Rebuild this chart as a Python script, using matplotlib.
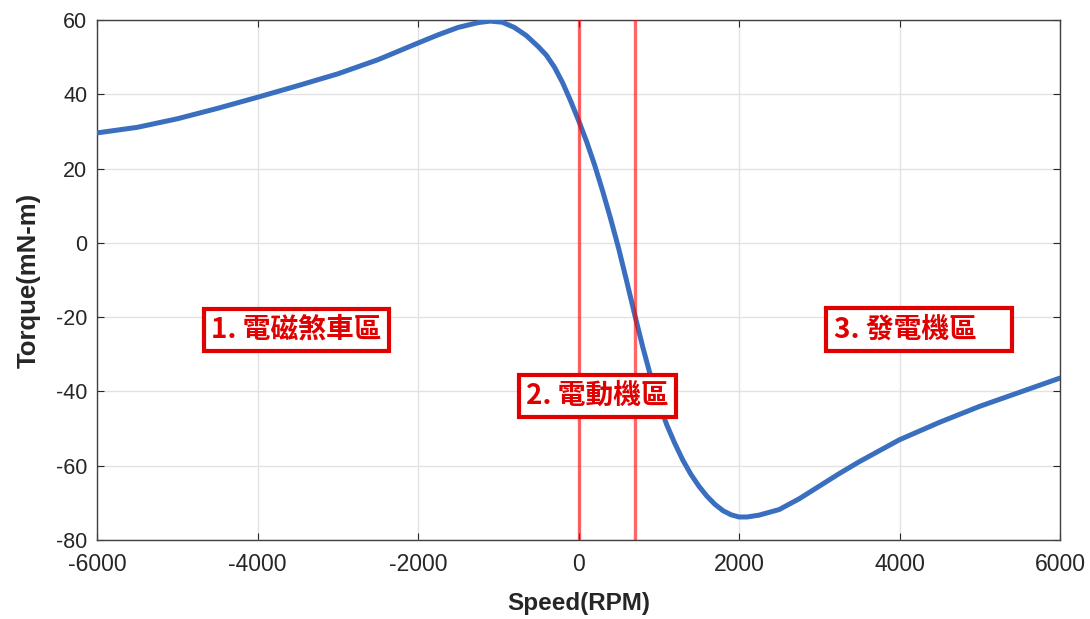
import matplotlib
matplotlib.use("Agg")
import matplotlib.pyplot as plt

# speed (RPM) and torque (mN-m)
speed = [-6000, -5500, -5000, -4500, -4000, -3500, -3000, -2500, -2000, -1750,
         -1500, -1250, -1100, -950, -800, -650, -500, -400, -300, -200,
         -100, 0, 100, 200, 300, 400, 500, 600, 700, 800,
         900, 1000, 1100, 1200, 1300, 1400, 1500, 1600, 1700, 1800,
         1900, 2000, 2100, 2250, 2500, 2750, 3000, 3250, 3500, 4000,
         4500, 5000, 5500, 6000]
torque = [29.6, 31.1, 33.4, 36.2, 39.2, 42.3, 45.5, 49.3, 53.8, 56.0,
          58.0, 59.3, 59.7, 59.4, 58.0, 55.8, 52.8, 50.5, 47.3, 43.2,
          38.3, 33.0, 27.3, 21.0, 14.0, 6.5, -1.5, -10.3, -19.3, -28.0,
          -36.0, -43.0, -49.0, -54.0, -58.5, -62.3, -65.5, -68.2, -70.4, -72.1,
          -73.2, -73.8, -73.8, -73.3, -71.8, -68.9, -65.5, -62.1, -58.9, -53.0,
          -48.3, -44.0, -40.2, -36.4]

region_bounds = [0, 700]
region_labels = ["1. 電磁煞車區", "2. 電動機區", "3. 發電機區\u3000"]
region_label_x = [-3520, 237, 4243]
region_label_y = [-23.4, -41.2, -23.3]

plt.rcParams["font.family"] = ["Liberation Sans", "DejaVu Sans"]
plt.rcParams["axes.unicode_minus"] = False

fig = plt.figure(figsize=(10.9, 6.19), dpi=100)
ax = fig.add_axes([0.089, 0.1276, 0.8835, 0.8401])

ax.plot(speed, torque, color="#3a6fbf", linewidth=3.6, zorder=3, solid_capstyle="round")
for b in region_bounds:
    ax.axvline(b, color="red", alpha=0.6, linewidth=2.4, zorder=4)

for lab, lx, ly in zip(region_labels, region_label_x, region_label_y):
    ax.text(lx, ly, lab, color="#e00000", fontsize=20, fontweight="bold",
            family=["Noto Sans CJK TC", "DejaVu Sans"], ha="center", va="center", zorder=5,
            bbox=dict(boxstyle="square,pad=0.26", facecolor="white", edgecolor="#e00000", linewidth=3.0))

ax.set_xlim(-6000, 6000)
ax.set_ylim(-80, 60)
ax.set_xticks(range(-6000, 6001, 2000))
ax.set_yticks(range(-80, 61, 20))
ax.grid(True, color="#e2e2e2", linewidth=1.0)
ax.set_axisbelow(True)
ax.tick_params(direction="in", top=True, right=True, length=5, colors="#262626")
ax.tick_params(axis="x", labelsize=16.5, pad=9)
ax.tick_params(axis="y", labelsize=15.5, pad=7)
for s in ax.spines.values():
    s.set_color("#404040")
    s.set_linewidth(1.0)

ax.set_xlabel("Speed(RPM)", fontsize=17.5, fontweight="bold", color="#262626", labelpad=12)
ax.set_ylabel("Torque(mN-m)", fontsize=18.5, fontweight="bold", color="#262626", labelpad=11)

fig.savefig("out.png", dpi=100)
